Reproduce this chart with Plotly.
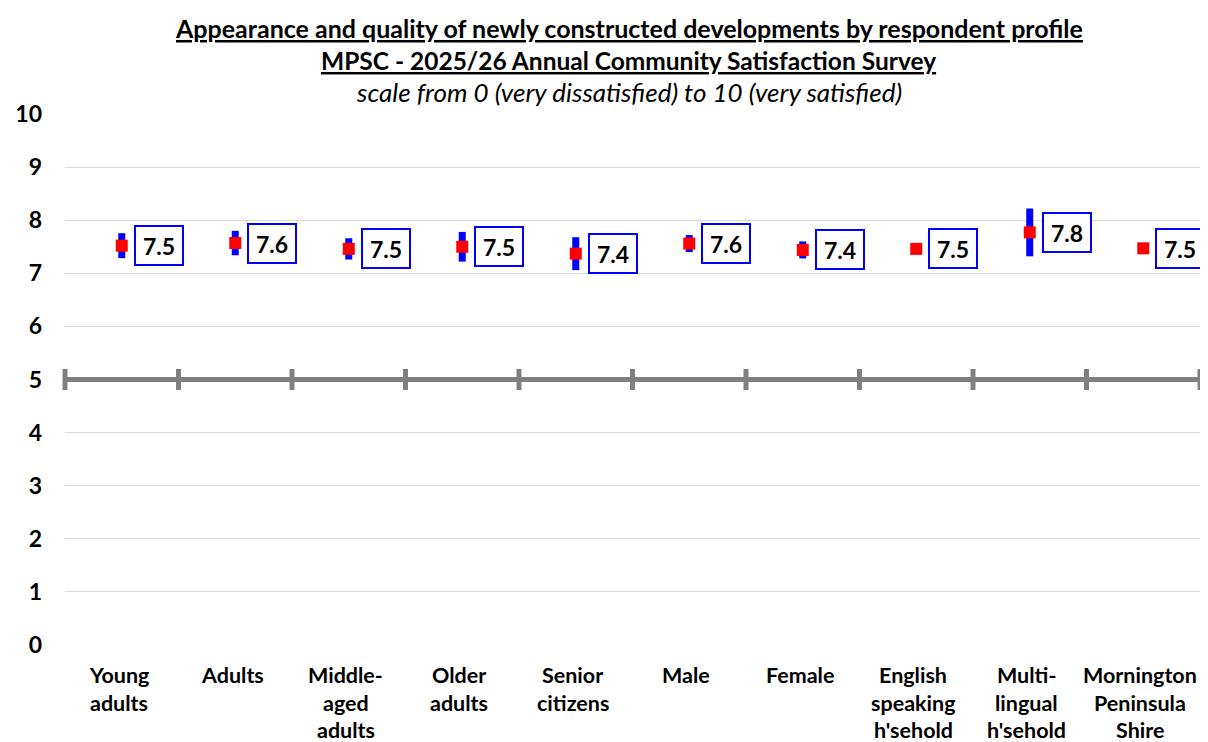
import plotly.graph_objects as go

categories = ["Young adults", "Adults", "Middle-aged adults", "Older adults", "Senior citizens",
              "Male", "Female", "English speaking h'sehold", "Multi-lingual h'sehold",
              "Mornington Peninsula Shire"]
label_lines = [["Young", "adults"], ["Adults"], ["Middle-", "aged", "adults"], ["Older", "adults"],
               ["Senior", "citizens"], ["Male"], ["Female"], ["English", "speaking", "h'sehold"],
               ["Multi-", "lingual", "h'sehold"], ["Mornington", "Peninsula", "Shire"]]
means = [7.52, 7.57, 7.46, 7.50, 7.37, 7.56, 7.44, 7.46, 7.77, 7.47]
ci_half = [0.235, 0.23, 0.20, 0.28, 0.31, 0.16, 0.16, 0.08, 0.45, 0.05]
neutral = 5
y_ticks = list(range(0, 11))

FONT = "Lato"
x_idx = list(range(len(categories)))

fig = go.Figure()

# neutral line at 5 with tick marks at category boundaries
bounds = [i - 0.5 for i in range(len(categories) + 1)]
fig.add_trace(go.Scatter(
    x=bounds, y=[neutral] * len(bounds), mode="lines+markers",
    line=dict(color="#808080", width=5),
    marker=dict(symbol="line-ns", size=15, line=dict(color="#808080", width=5)),
    hoverinfo="skip", showlegend=False, cliponaxis=False))

fig.add_trace(go.Scatter(
    x=x_idx, y=means, mode="markers",
    marker=dict(symbol="square", size=12, color="#ff0000"),
    error_y=dict(type="data", array=ci_half, visible=True, color="#0000ff", thickness=7, width=0),
    showlegend=False, hovertext=categories))

annotations = []
for i, m in enumerate(means):
    annotations.append(dict(
        x=i, y=m, xref="x", yref="y", text=f"<b>{m:.1f}</b>", showarrow=False,
        xshift=37, font=dict(family=FONT, size=23, color="black"),
        bgcolor="white", bordercolor="#0000ff", borderwidth=2, width=44, height=35,
        xanchor="center", yanchor="middle"))

for i, lines in enumerate(label_lines):
    for j, line in enumerate(lines):
        annotations.append(dict(
            x=i, y=0, xref="x", yref="paper", text=f"<b>{line}</b>", showarrow=False,
            yshift=-30 - 27.5 * j, yanchor="middle", xanchor="center", xshift=-3,
            font=dict(family=FONT, size=21.5, color="black")))

titles = [
    ("<u><b>Appearance and quality of newly constructed developments by respondent profile</b></u>", 86, 25),
    ("<u><b>MPSC - 2025/26 Annual Community Satisfaction Survey</b></u>", 54, 24.5),
    ("<i>scale from 0 (very dissatisfied) to 10 (very satisfied)</i>", 22, 26),
]
for t, sh, fs in titles:
    annotations.append(dict(
        x=0.5, y=1, xref="paper", yref="paper", text=t, showarrow=False,
        yshift=sh, xshift=-4, yanchor="middle", xanchor="center",
        font=dict(family=FONT, size=fs, color="black")))

fig.update_layout(
    width=1200, height=734,
    margin=dict(l=57, r=8, t=106, b=97),
    plot_bgcolor="white", paper_bgcolor="white",
    annotations=annotations,
    showlegend=False,
    xaxis=dict(range=[-0.5, len(categories) - 0.5], showticklabels=False, showgrid=False,
               zeroline=False, showline=False, ticks=""),
    yaxis=dict(range=[0, 10], tickvals=y_ticks, ticktext=[f"<b>{v}</b>" for v in y_ticks],
               showgrid=True, gridcolor="#d9d9d9", gridwidth=1, zeroline=False,
               showline=False, ticks="", ticklabelstandoff=22,
               tickfont=dict(family=FONT, size=23, color="black")),
)

fig.write_html("out.html")
